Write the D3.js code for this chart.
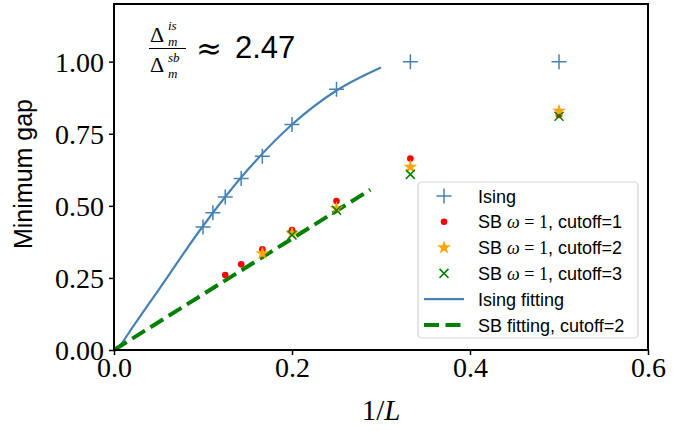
<!DOCTYPE html>
<html>
<head>
<meta charset="utf-8">
<script src="https://cdn.jsdelivr.net/npm/d3@7"></script>
<style>
  body { margin: 0; background: #fff; }
  svg { display: block; }
  .tick text { font-family: "Liberation Serif", serif; font-size: 28px; fill: #000; }
  .leg { font-family: "Liberation Sans", sans-serif; font-size: 18px; fill: #000; }
</style>
</head>
<body>
<div id="chart"></div>
<script>
// values
var xTicks = [0, 0.2, 0.4, 0.6];
var yTicks = [0, 0.25, 0.5, 0.75, 1.0];

var isingX = [0.5, 0.333, 0.25, 0.2, 0.1667, 0.1429, 0.125, 0.1111, 0.1];
var isingY = [1.0, 1.0, 0.904, 0.782, 0.672, 0.595, 0.531, 0.476, 0.427];

var sb1X = [0.5, 0.333, 0.25, 0.2, 0.1667, 0.1429, 0.125];
var sb1Y = [0.815, 0.664, 0.517, 0.416, 0.349, 0.297, 0.26];

var sb2X = [0.5, 0.333, 0.25, 0.2, 0.1667];
var sb2Y = [0.829, 0.635, 0.491, 0.404, 0.335];

var sb3X = [0.5, 0.333, 0.25, 0.2];
var sb3Y = [0.811, 0.609, 0.485, 0.399];

// fitted curves
var isingFitX = [0.0015, 0.007, 0.02, 0.05, 0.1, 0.15, 0.2, 0.25, 0.3];
var isingFitY = [0.0, 0.017, 0.075, 0.208, 0.43, 0.624, 0.782, 0.9, 0.98];
var sbFitX = [0.0, 0.288];
var sbFitY = [0.0, 0.556];

var legendLabels = ["Ising", "cutoff=1", "cutoff=2", "cutoff=3", "Ising fitting", "SB fitting, cutoff=2"];

var blue = "#4682b4", red = "#ff0000", orange = "#ffa500", green = "#008000";

var margin = {top: 4, right: 52, bottom: 81, left: 114};
var width = 700 - margin.left - margin.right;
var height = 431 - margin.top - margin.bottom;

var svg = d3.select('#chart')
  .append('svg')
  .attr('width', 700)
  .attr('height', 431)
  .append('g')
  .attr('transform', `translate(${margin.left}, ${margin.top})`);

var x = d3.scaleLinear().domain([0, 0.6]).range([0, width]);
var y = d3.scaleLinear().domain([0, 1.2]).range([height, 0]);

// axes
var xAxis = d3.axisBottom(x).tickValues(xTicks).tickFormat(d3.format('.1f')).tickSize(5).tickSizeOuter(0).tickPadding(2);
var yAxis = d3.axisLeft(y).tickValues(yTicks).tickFormat(d3.format('.2f')).tickSize(5).tickSizeOuter(0).tickPadding(5);

var gx = svg.append('g').attr('transform', `translate(0, ${height})`).call(xAxis);
var gy = svg.append('g').call(yAxis);
[gx, gy].forEach(g => {
  g.select('.domain').remove();
  g.selectAll('.tick line').attr('stroke', '#000').attr('stroke-width', 1.5);
});
gy.selectAll('.tick text').attr('dy', '0.34em');

// lines
var line = d3.line().x(d => x(d[0])).y(d => y(d[1]));

svg.append('path')
  .datum(isingFitX.map((v, i) => [v, isingFitY[i]]))
  .attr('d', line.curve(d3.curveMonotoneX))
  .attr('fill', 'none')
  .attr('stroke', blue)
  .attr('stroke-width', 2.2);

svg.append('path')
  .datum(sbFitX.map((v, i) => [v, sbFitY[i]]))
  .attr('d', d3.line().x(d => x(d[0])).y(d => y(d[1])))
  .attr('fill', 'none')
  .attr('stroke', green)
  .attr('stroke-width', 4)
  .attr('stroke-dasharray', '15,6.5');

// markers
var plusPath = 'M-7.5,0H7.5M0,-7.5V7.5';
var xPath = 'M-4.5,-4.5L4.5,4.5M-4.5,4.5L4.5,-4.5';
var starPath = d3.symbol(d3.symbolStar, 60)();

svg.selectAll('.ising')
  .data(isingX)
  .enter()
  .append('path')
  .attr('d', plusPath)
  .attr('transform', (d, i) => `translate(${x(d)},${y(isingY[i])})`)
  .attr('stroke', blue)
  .attr('stroke-width', 1.5);

svg.selectAll('.sb1')
  .data(sb1X)
  .enter()
  .append('circle')
  .attr('cx', d => x(d))
  .attr('cy', (d, i) => y(sb1Y[i]))
  .attr('r', 3.3)
  .attr('fill', red);

svg.selectAll('.sb2')
  .data(sb2X)
  .enter()
  .append('path')
  .attr('d', starPath)
  .attr('transform', (d, i) => `translate(${x(d)},${y(sb2Y[i])})`)
  .attr('fill', orange);

svg.selectAll('.sb3')
  .data(sb3X)
  .enter()
  .append('path')
  .attr('d', xPath)
  .attr('transform', (d, i) => `translate(${x(d)},${y(sb3Y[i])})`)
  .attr('stroke', green)
  .attr('stroke-width', 1.5);

// frame
svg.append('rect')
  .attr('width', width)
  .attr('height', height)
  .attr('fill', 'none')
  .attr('stroke', '#000')
  .attr('stroke-width', 2);

// axis labels
svg.append('text')
  .attr('x', width / 2)
  .attr('y', height + 70)
  .attr('text-anchor', 'middle')
  .style('font-family', '"Liberation Serif", serif')
  .style('font-size', '29px')
  .html('1/<tspan font-style="italic">L</tspan>');

svg.append('text')
  .attr('transform', `translate(${-82}, ${height / 2 - 3}) rotate(-90)`)
  .attr('text-anchor', 'middle')
  .style('font-family', '"Liberation Sans", sans-serif')
  .style('font-size', '25px')
  .text('Minimum gap');

// annotation: ratio of gaps
var ann = svg.append('g').attr('transform', `translate(${-margin.left}, ${-margin.top})`);
var serif = '"Liberation Serif", serif';
function it(xp, yp, s) {
  ann.append('text').attr('x', xp).attr('y', yp).style('font-family', serif)
    .style('font-size', '13px').style('font-style', 'italic').text(s);
}
ann.append('text').attr('x', 150).attr('y', 42).style('font-family', serif).style('font-size', '22px').text('Δ');
it(168, 30, 'is');
it(168, 46, 'm');
ann.append('line').attr('x1', 149).attr('x2', 186).attr('y1', 48.5).attr('y2', 48.5).attr('stroke', '#000').attr('stroke-width', 1.2);
ann.append('text').attr('x', 150).attr('y', 72).style('font-family', serif).style('font-size', '22px').text('Δ');
it(168, 62, 'sb');
it(168, 78, 'm');
ann.append('text').attr('x', 196).attr('y', 59).style('font-family', '"DejaVu Serif", serif').style('font-size', '31px').text('≈');
ann.append('text').attr('x', 235).attr('y', 58).style('font-family', '"Liberation Sans", sans-serif').style('font-size', '31px').text('2.47');

// legend
var leg = svg.append('g').attr('transform', `translate(${418 - margin.left}, ${182 - margin.top})`);
leg.append('rect')
  .attr('width', 220)
  .attr('height', 156)
  .attr('rx', 4)
  .attr('fill', '#fff')
  .attr('fill-opacity', 0.8)
  .attr('stroke', '#d6d6d6')
  .attr('stroke-width', 1.2);

var rowY = i => 14 + i * 25.8;
var hx = 26;

leg.append('path').attr('d', plusPath).attr('transform', `translate(${hx},${rowY(0)})`).attr('stroke', blue).attr('stroke-width', 1.5);
leg.append('circle').attr('cx', hx).attr('cy', rowY(1)).attr('r', 3.3).attr('fill', red);
leg.append('path').attr('d', starPath).attr('transform', `translate(${hx},${rowY(2)})`).attr('fill', orange);
leg.append('path').attr('d', xPath).attr('transform', `translate(${hx},${rowY(3)})`).attr('stroke', green).attr('stroke-width', 1.5);
leg.append('line').attr('x1', 6).attr('x2', 46).attr('y1', rowY(4)).attr('y2', rowY(4)).attr('stroke', blue).attr('stroke-width', 2.2);
leg.append('line').attr('x1', 6).attr('x2', 46).attr('y1', rowY(5)).attr('y2', rowY(5)).attr('stroke', green).attr('stroke-width', 4).attr('stroke-dasharray', '15,6.5');

legendLabels.forEach((lab, i) => {
  var t = leg.append('text').attr('class', 'leg').attr('x', 60).attr('y', rowY(i) + 6.5);
  if (i >= 1 && i <= 3) {
    t.append('tspan').text('SB ');
    t.append('tspan').style('font-family', serif).style('font-style', 'italic').text('ω');
    t.append('tspan').style('font-family', serif).text(' = 1');
    t.append('tspan').text(', ' + lab);
  } else {
    t.text(lab);
  }
});
</script>
</body>
</html>
